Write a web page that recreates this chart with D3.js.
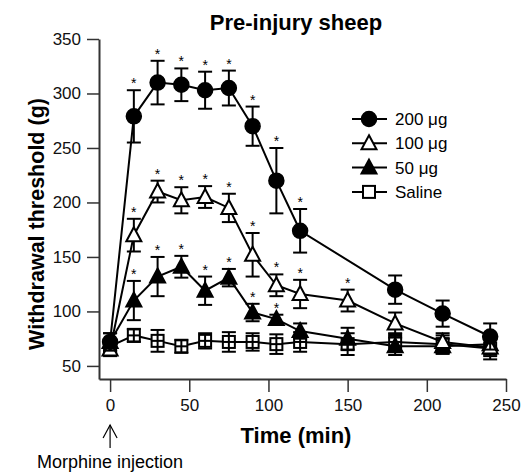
<!DOCTYPE html>
<html>
<head>
<meta charset="utf-8">
<script src="https://cdn.jsdelivr.net/npm/d3@7"></script>
<style>
  body { margin: 0; background: #fff; }
  text { font-family: "Liberation Sans", Arial, sans-serif; }
</style>
</head>
<body>
<svg id="chart"></svg>
<script>
// time points (min)
var times = [0, 15, 30, 45, 60, 75, 90, 105, 120, 150, 180, 210, 240];

// 200 ug: no 150 min reading
var times200 = [0, 15, 30, 45, 60, 75, 90, 105, 120, 180, 210, 240];
var mean200 = [72, 279, 310, 308, 303, 305, 270, 220, 174, 120, 98, 77];
var err200  = [8, 24, 20, 15, 17, 16, 18, 30, 20, 13, 12, 12];
var sig200  = [0, 1, 1, 1, 1, 1, 1, 1, 1, 0, 0, 0];

var mean100 = [65, 170, 210, 202, 205, 195, 152, 124, 116, 110, 89, 72, 67];
var err100  = [6, 15, 10, 12, 10, 13, 20, 10, 13, 10, 10, 8, 8];
var sig100  = [0, 1, 1, 1, 1, 1, 1, 1, 1, 1, 0, 0, 0];

var mean50 = [72, 110, 132, 141, 119, 131, 99, 93, 82, 75, 68, 68, 70];
var err50  = [8, 18, 18, 10, 13, 8, 8, 4, 7, 10, 8, 7, 7];
var sig50  = [0, 1, 1, 1, 1, 1, 1, 1, 0, 0, 0, 0, 0];

var meanSal = [68, 78, 73, 68, 73, 72, 72, 70, 72, 70, 72, 70, 66];
var errSal  = [6, 6, 10, 6, 7, 9, 8, 9, 9, 10, 8, 8, 10];

var xTicks = [0, 50, 100, 150, 200, 250];
var yTicks = [50, 100, 150, 200, 250, 300, 350];

var width = 522, height = 472;
var svg = d3.select("#chart").attr("width", width).attr("height", height);

var x = d3.scaleLinear().domain([-7, 250]).range([99, 506]);
var y = d3.scaleLinear().domain([38, 350]).range([379, 39]);

function makeSeries(ts, m, e, s) {
  return ts.map(function(t, i) {
    return {t: t, v: m[i], e: e[i], sig: s ? s[i] : 0};
  });
}

var series = [
  {name: "200 \u03bcg", shape: "circle", fill: "#000", data: makeSeries(times200, mean200, err200, sig200)},
  {name: "100 \u03bcg", shape: "triangle", fill: "#fff", data: makeSeries(times, mean100, err100, sig100)},
  {name: "50 \u03bcg", shape: "triangle", fill: "#000", data: makeSeries(times, mean50, err50, sig50)},
  {name: "Saline", shape: "square", fill: "#fff", data: makeSeries(times, meanSal, errSal, null)}
];

// axes
var yAxis = svg.append("g")
  .attr("transform", "translate(99,0)")
  .call(d3.axisLeft(y).tickValues(yTicks).tickSize(12).tickSizeOuter(0).tickPadding(6));
var xAxis = svg.append("g")
  .attr("transform", "translate(0,379)")
  .call(d3.axisBottom(x).tickValues(xTicks).tickSize(13).tickSizeOuter(0).tickPadding(7));

[yAxis, xAxis].forEach(function(a) {
  a.select(".domain").attr("stroke", "#333").attr("stroke-width", 2);
  a.selectAll(".tick line").attr("stroke", "#333").attr("stroke-width", 1.5);
  a.selectAll(".tick text").attr("font-size", 17).attr("fill", "#111")
    .style("font-family", "Liberation Sans, Arial, sans-serif");
});

// titles
svg.append("text").attr("x", 296).attr("y", 30).attr("text-anchor", "middle")
  .attr("font-size", 22).attr("font-weight", "bold").text("Pre-injury sheep");
svg.append("text").attr("x", 296).attr("y", 443).attr("text-anchor", "middle")
  .attr("font-size", 22).attr("font-weight", "bold").text("Time (min)");
svg.append("text").attr("transform", "translate(44,224) rotate(-90)").attr("text-anchor", "middle")
  .attr("font-size", 21.5).attr("font-weight", "bold").text("Withdrawal threshold (g)");

// morphine arrow
svg.append("line").attr("x1", x(0)).attr("x2", x(0)).attr("y1", 425).attr("y2", 448)
  .attr("stroke", "#000").attr("stroke-width", 1.2);
svg.append("path").attr("d", "M" + (x(0) - 7) + ",438 L" + x(0) + ",425 L" + (x(0) + 7) + ",438")
  .attr("fill", "none").attr("stroke", "#000").attr("stroke-width", 1.2);
svg.append("text").attr("x", x(0)).attr("y", 468).attr("text-anchor", "middle")
  .attr("font-size", 18).text("Morphine injection");

var line = d3.line().x(function(d) { return x(d.t); }).y(function(d) { return y(d.v); });

function drawMarker(g, shape, fill) {
  if (shape === "circle") {
    g.append("circle").attr("r", 7.5).attr("fill", fill).attr("stroke", "#000").attr("stroke-width", 1.5);
  } else if (shape === "triangle") {
    g.append("path").attr("d", "M0,-8 L7.5,6 L-7.5,6 Z")
      .attr("fill", fill).attr("stroke", "#000").attr("stroke-width", 2);
  } else {
    g.append("rect").attr("x", -6).attr("y", -6).attr("width", 12).attr("height", 12)
      .attr("fill", fill).attr("stroke", "#000").attr("stroke-width", 2);
  }
}

// draw back to front so the saline sits on top of the crowd
series.slice().reverse().forEach(function(s) {
  var g = svg.append("g");
  g.append("path").datum(s.data).attr("d", line)
    .attr("fill", "none").attr("stroke", "#000").attr("stroke-width", 2);

  var pts = g.selectAll(".pt").data(s.data).enter().append("g").attr("class", "pt");
  // error bars
  pts.append("line")
    .attr("x1", function(d) { return x(d.t); }).attr("x2", function(d) { return x(d.t); })
    .attr("y1", function(d) { return y(d.v - d.e); }).attr("y2", function(d) { return y(d.v + d.e); })
    .attr("stroke", "#000").attr("stroke-width", 2);
  [1, -1].forEach(function(sign) {
    pts.append("line")
      .attr("x1", function(d) { return x(d.t) - 7; }).attr("x2", function(d) { return x(d.t) + 7; })
      .attr("y1", function(d) { return y(d.v + sign * d.e); }).attr("y2", function(d) { return y(d.v + sign * d.e); })
      .attr("stroke", "#000").attr("stroke-width", 2);
  });
  pts.each(function(d) {
    var m = d3.select(this).append("g").attr("transform", "translate(" + x(d.t) + "," + y(d.v) + ")");
    drawMarker(m, s.shape, s.fill);
    if (s.shape === "square") {
      // error bar shows through the open square
      m.append("line").attr("x1", 0).attr("x2", 0).attr("y1", -6).attr("y2", 6)
        .attr("stroke", "#000").attr("stroke-width", 2);
      m.append("line").attr("x1", -6).attr("x2", 6).attr("y1", 0).attr("y2", 0)
        .attr("stroke", "#000").attr("stroke-width", 2);
    }
  });
  // significance stars
  pts.filter(function(d) { return d.sig; }).append("text")
    .attr("x", function(d) { return x(d.t); })
    .attr("y", function(d) { return y(d.v + d.e) - 2; })
    .attr("text-anchor", "middle").attr("font-size", 14).text("*");
});

// legend
var legend = svg.append("g").attr("transform", "translate(352,119)");
series.forEach(function(s, i) {
  var row = legend.append("g").attr("transform", "translate(0," + (i * 24.3) + ")");
  row.append("line").attr("x1", 0).attr("x2", 35).attr("y1", 0).attr("y2", 0)
    .attr("stroke", "#000").attr("stroke-width", 2);
  var m = row.append("g").attr("transform", "translate(17,0)");
  drawMarker(m, s.shape, s.fill);
  row.append("text").attr("x", 43).attr("y", 6).attr("font-size", 17).text(s.name);
});
</script>
</body>
</html>
